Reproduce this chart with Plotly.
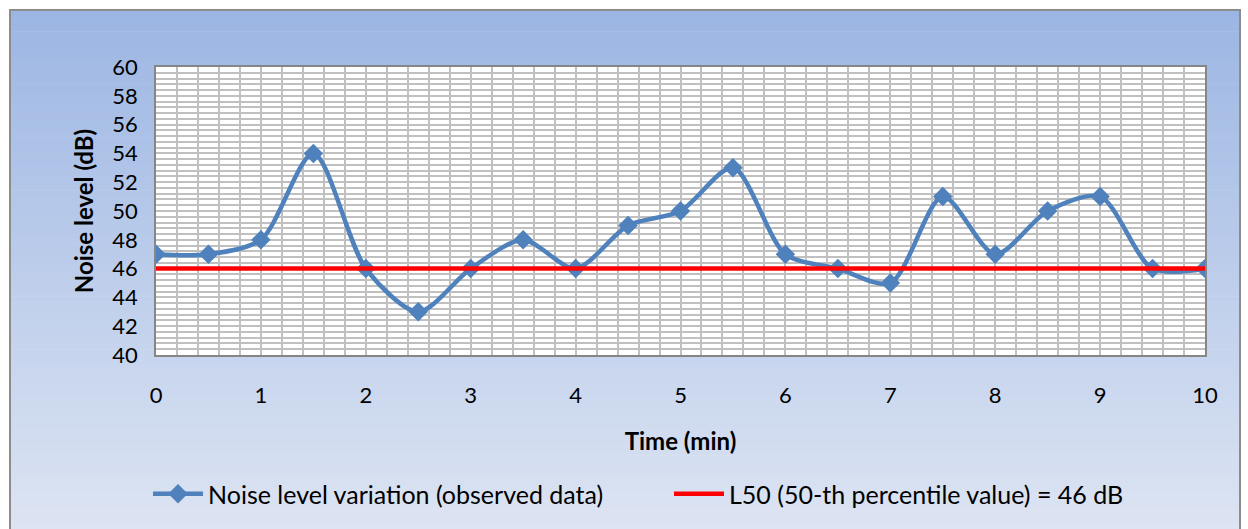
import plotly.graph_objects as go

time_min = [0, 0.5, 1, 1.5, 2, 2.5, 3, 3.5, 4, 4.5, 5, 5.5, 6, 6.5, 7, 7.5, 8, 8.5, 9, 9.5, 10]
noise_db = [47, 47, 48, 54, 46, 43, 46, 48, 46, 49, 50, 53, 47, 46, 45, 51, 47, 50, 51, 46, 46]
l50_x = [0, 10]
l50_y = [46, 46]

W, H = 1248, 529
L, R, T, B = 156, 1205, 67, 355

def px(x):
    return (x - L) / (R - L)

def py(y):
    return (B - y) / (B - T)

FONT = "Lato"

fig = go.Figure()
fig.add_trace(go.Scatter(
    x=time_min, y=noise_db, mode="lines+markers",
    name="Noise level variation (observed data)",
    line=dict(color="#4F81BD", width=4.5, shape="spline", smoothing=0.8),
    marker=dict(symbol="diamond", size=15, color="#4F81BD"),
))
fig.add_trace(go.Scatter(
    x=l50_x, y=l50_y, mode="lines",
    name="L50 (50-th percentile value) = 46 dB",
    line=dict(color="#FF0000", width=4.5),
))

# gradient background bands
shapes = []
top_c = (0x9C, 0xB6, 0xE3)
bot_c = (0xDE, 0xE5, 0xF3)
y_top, y_bot = 10, 540
n = 100
for i in range(n):
    t = i / (n - 1)
    c = tuple(round(top_c[k] + (bot_c[k] - top_c[k]) * t) for k in range(3))
    y0 = y_top + (y_bot - y_top) * i / n
    y1 = y_top + (y_bot - y_top) * (i + 1) / n + 0.6
    shapes.append(dict(type="rect", xref="paper", yref="paper", layer="below",
                       x0=px(10), x1=px(1240), y0=py(y1), y1=py(y0),
                       fillcolor="rgb(%d,%d,%d)" % c, line=dict(width=0)))
shapes.append(dict(type="rect", xref="paper", yref="paper", layer="below",
                   x0=0, x1=1, y0=0, y1=1, fillcolor="white", line=dict(width=0)))
shapes.append(dict(type="rect", xref="paper", yref="paper", layer="above",
                   x0=px(10), x1=px(1240), y0=py(545), y1=py(10),
                   fillcolor="rgba(0,0,0,0)", line=dict(color="#8C8C8C", width=2)))

grid_c = "#C0C0C0"
fig.update_layout(
    width=W, height=H,
    margin=dict(l=L, r=W - R, t=T, b=H - B),
    paper_bgcolor="white", plot_bgcolor="white",
    font=dict(family=FONT, size=22, color="black"),
    shapes=shapes,
    showlegend=True,
    legend=dict(orientation="h", x=px(148), xanchor="left", y=py(494), yanchor="middle",
                bgcolor="rgba(0,0,0,0)", font=dict(size=25), itemwidth=50,
                entrywidth=456, traceorder="normal"),
    xaxis=dict(range=[0, 10], tickmode="linear", tick0=0, dtick=1,
               showgrid=True, gridcolor=grid_c, gridwidth=2,
               minor=dict(dtick=0.2, showgrid=True, gridcolor=grid_c, gridwidth=2),
               showline=True, linecolor="#868686", linewidth=1.5, mirror=True,
               zeroline=False, ticks="", ticklabelstandoff=20,
               title=dict(text="<b>Time (min)</b>", standoff=26, font=dict(size=24))),
    yaxis=dict(range=[40, 60], tickmode="linear", tick0=40, dtick=2,
               showgrid=True, gridcolor=grid_c, gridwidth=2,
               minor=dict(dtick=0.4, showgrid=True, gridcolor=grid_c, gridwidth=2),
               showline=True, linecolor="#868686", linewidth=1.5, mirror=True,
               zeroline=False, ticks="", ticklabelstandoff=12,
               title=dict(text="<b>Noise level (dB)</b>", standoff=12, font=dict(size=24))),
)

fig.write_html("out.html")
